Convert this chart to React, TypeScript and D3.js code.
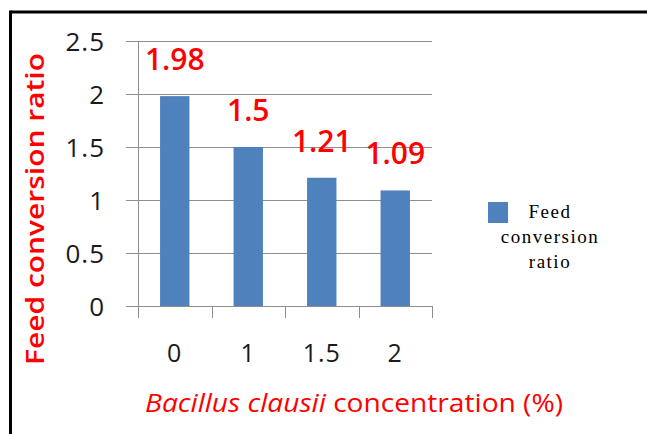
import React from "react";
import * as d3 from "d3";

const categories = ["0", "1", "1.5", "2"];
const values = [1.98, 1.5, 1.21, 1.09];
const valueLabels = ["1.98", "1.5", "1.21", "1.09"];
const yTicks = [0, 0.5, 1, 1.5, 2, 2.5];
const yTickLabels = ["0", "0.5", "1", "1.5", "2", "2.5"];
const legendLines = ["Feed", "conversion", "ratio"];

const W = 647;
const H = 434;
const plot = { left: 138, right: 432, top: 41, bottom: 306 };

export default function App() {
  const x = d3.scaleBand<string>().domain(categories).range([plot.left, plot.right]).padding(0);
  const y = d3.scaleLinear().domain([0, 2.5]).range([plot.bottom, plot.top]);
  const bw = x.bandwidth() * 0.4;
  const sans = "'Open Sans', 'DejaVu Sans', sans-serif";
  const gridColor = "#8e8e8e";

  return (
    <svg width={W} height={H} style={{ position: "absolute", left: 0, top: 0 }}>
      <rect x={0} y={0} width={W} height={H} fill="#ffffff" />
      {/* frame */}
      <line x1={10.5} y1={12} x2={W} y2={12} stroke="#000" strokeWidth={3} />
      <line x1={10.5} y1={10.5} x2={10.5} y2={H} stroke="#000" strokeWidth={3} />

      {/* gridlines + y ticks */}
      {yTicks.map((t) => (
        <line key={"g" + t} x1={plot.left - 12} x2={plot.right} y1={Math.round(y(t)) + 0.5} y2={Math.round(y(t)) + 0.5} stroke={gridColor} strokeWidth={1} />
      ))}
      {/* y axis line */}
      <line x1={plot.left + 0.5} x2={plot.left + 0.5} y1={plot.top} y2={plot.bottom + 12} stroke={gridColor} strokeWidth={1} />
      {/* x ticks */}
      {categories.map((c) => (
        <line key={"xt" + c} x1={Math.round((x(c) as number) + x.bandwidth()) + 0.5} x2={Math.round((x(c) as number) + x.bandwidth()) + 0.5} y1={plot.bottom} y2={plot.bottom + 12} stroke={gridColor} strokeWidth={1} />
      ))}

      {/* bars */}
      {categories.map((c, i) => {
        const cx = (x(c) as number) + x.bandwidth() / 2;
        return (
          <rect key={"b" + c} x={cx - bw / 2} y={y(values[i])} width={bw} height={plot.bottom - y(values[i])} fill="#4F81BD" />
        );
      })}

      {/* data labels */}
      {categories.map((c, i) => {
        const cx = (x(c) as number) + x.bandwidth() / 2;
        return (
          <text key={"l" + c} x={cx} y={y(values[i]) - 26} textAnchor="middle" fontFamily={sans} fontSize={30} fontWeight={600} fill="#ff0000">
            {valueLabels[i]}
          </text>
        );
      })}

      {/* y tick labels */}
      {yTicks.map((t, i) => (
        <text key={"yl" + t} x={105} y={y(t) + 9.5} textAnchor="end" fontFamily={sans} fontSize={26} letterSpacing={1} fill="#1a1a1a">
          {yTickLabels[i]}
        </text>
      ))}

      {/* x tick labels */}
      {categories.map((c) => (
        <text key={"xl" + c} x={(x(c) as number) + x.bandwidth() / 2} y={362} textAnchor="middle" fontFamily={sans} fontSize={25} letterSpacing={1} fill="#1a1a1a">
          {c}
        </text>
      ))}

      {/* axis titles */}
      <text transform="translate(44,209) rotate(-90)" textAnchor="middle" fontFamily={sans} fontSize={26} fontWeight={600} fill="#ff0000" textLength={312} lengthAdjust="spacingAndGlyphs">
        Feed conversion ratio
      </text>
      <text x={354} y={412} textAnchor="middle" fontFamily={sans} fontSize={25} fontWeight={400} fill="#ff0000" textLength={418} lengthAdjust="spacingAndGlyphs">
        <tspan fontStyle="italic">Bacillus clausii</tspan> concentration (%)
      </text>

      {/* legend */}
      <rect x={488} y={202} width={20} height={21} fill="#4F81BD" />
      {legendLines.map((l, i) => (
        <text key={"lg" + i} x={550} y={218 + i * 25} textAnchor="middle" fontFamily="'Liberation Serif', 'Times New Roman', serif" fontSize={19} letterSpacing={1.5} fill="#000">
          {l}
        </text>
      ))}
    </svg>
  );
}
